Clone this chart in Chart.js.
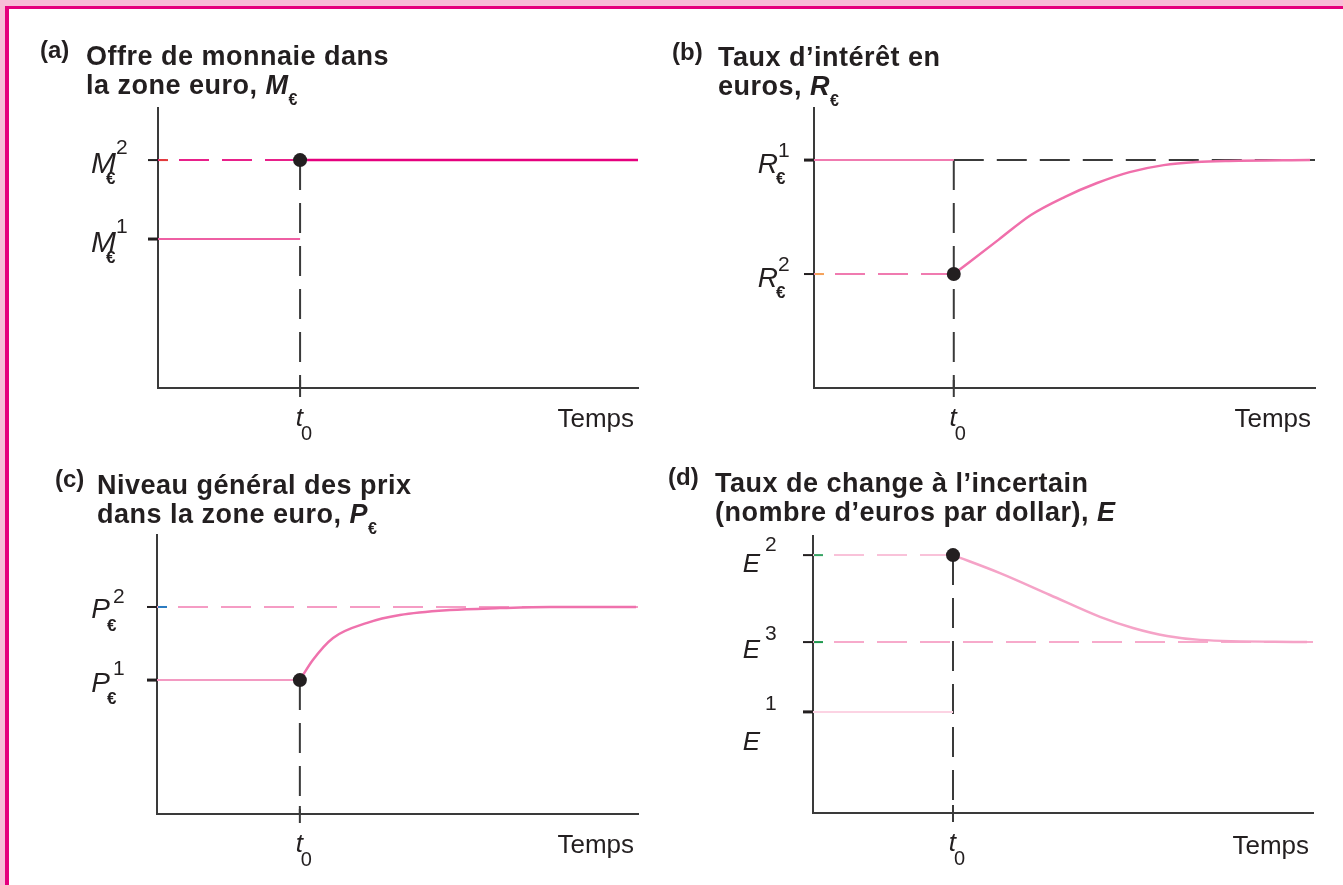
<!DOCTYPE html>
<html lang="fr">
<head>
<meta charset="utf-8">
<title>Offre de monnaie, taux d’intérêt, prix et taux de change</title>
<script src="https://cdn.jsdelivr.net/npm/chart.js@4"></script>
<style>
  body { margin: 0; }
  #frame { position: relative; width: 1343px; height: 885px; background: #f8bdd7; overflow: hidden;
           font-family: "Liberation Sans", Arial, sans-serif; color: #231f20; }
  #sheet { position: absolute; left: 5px; top: 6px; right: 0; bottom: 0; background: #fff;
           border-left: 4px solid #e5007d; border-top: 3px solid #e5007d; }
  canvas { position: absolute; }
  .tag { position: absolute; font-weight: bold; font-size: 24px; line-height: 24px; }
  .title { position: absolute; font-weight: bold; font-size: 27px; line-height: 29px;
           letter-spacing: 0.5px; white-space: nowrap; }
  .title sub { font-size: 16px; line-height: 0; vertical-align: -11px; }
</style>
</head>
<body>
<div id="frame">
  <div id="sheet"></div>

  <canvas id="chartA" width="671" height="442" style="left:0;top:0"></canvas>
  <canvas id="chartB" width="672" height="442" style="left:671px;top:0"></canvas>
  <canvas id="chartC" width="671" height="443" style="left:0;top:442px"></canvas>
  <canvas id="chartD" width="672" height="443" style="left:671px;top:442px"></canvas>

  <div class="tag" style="left:40px;top:38px">(a)</div>
  <div class="title" style="left:86px;top:42px">Offre de monnaie dans<br>la zone euro, <i>M</i><sub>€</sub></div>

  <div class="tag" style="left:672px;top:40px">(b)</div>
  <div class="title" style="left:718px;top:43px">Taux d’intérêt en<br>euros, <i>R</i><sub>€</sub></div>

  <div class="tag" style="left:55px;top:467px">(c)</div>
  <div class="title" style="left:97px;top:471px">Niveau général des prix<br>dans la zone euro, <i>P</i><sub>€</sub></div>

  <div class="tag" style="left:668px;top:465px">(d)</div>
  <div class="title" style="left:715px;top:469px">Taux de change à l’incertain<br>(nombre d’euros par dollar), <i>E</i></div>
</div>

<script>
// bornes communes des axes (unités arbitraires)
const timeMin = 0, timeMax = 10;
const valueMin = 0, valueMax = 10;
const timeLabel = 'Temps';

// (a) offre de monnaie : M¹ puis M²
const moneyT0 = 2.96;
const moneyLevels = [5.32, 8.14];
const moneyTags = ['1', '2'];

// (b) taux d'intérêt : R¹, R² et retour vers R¹
const rateT0 = 2.79;
const rateLevels = [8.14, 4.07];
const rateTags = ['1', '2'];
const ratePathX = [2.79, 3.68, 4.33, 5.0, 5.65, 6.3, 6.98, 7.63, 8.28, 9.9];
const ratePathY = [4.07, 5.29, 6.18, 6.82, 7.32, 7.71, 7.96, 8.07, 8.11, 8.14];

// (c) niveau des prix : P¹ vers P²
const priceT0 = 2.97;
const priceLevels = [4.8, 7.42];
const priceTags = ['1', '2'];
const pricePathX = [2.97, 3.24, 3.66, 4.37, 5.05, 6.09, 7.13, 8.17, 9.96];
const pricePathY = [4.8, 5.52, 6.31, 6.85, 7.13, 7.31, 7.38, 7.42, 7.42];

// (d) taux de change : E¹, saut à E², puis E³
const fxT0 = 2.8;
const fxLevels = [3.65, 9.31, 6.17];
const fxTags = ['1', '2', '3'];
const fxPathX = [2.8, 3.74, 4.74, 5.74, 6.4, 7.08, 7.74, 9.88];
const fxPathY = [9.31, 8.66, 7.87, 7.08, 6.68, 6.39, 6.25, 6.17];

const INK = '#231f20';
const GUIDE = '#3a3a3a';
const DASH = [30, 13];
const FONT = '"Liberation Sans", Arial, sans-serif';

function hline(x0, x1, y, color, width, dashed) {
  return { data: [{ x: x0, y }, { x: x1, y }], borderColor: color, borderWidth: width,
           borderDash: dashed ? DASH : [], borderDashOffset: x0 === timeMin ? 22 : 0, order: 3 };
}
function vguide(t, yTop) {
  return { data: [{ x: t, y: yTop }, { x: t, y: valueMin }], borderColor: GUIDE, borderWidth: 2,
           borderDash: DASH, order: 4 };
}
function path(xs, ys, color) {
  return { data: xs.map((x, i) => ({ x, y: ys[i] })), borderColor: color, borderWidth: 2.5,
           tension: 0.4, cubicInterpolationMode: 'monotone', order: 2 };
}
function dot(t, y) {
  return { data: [{ x: t, y }], showLine: false, pointRadius: 7, pointBackgroundColor: INK,
           pointBorderWidth: 0, order: 0 };
}

function axis(kind, min, max) {
  return {
    type: 'linear', min, max,
    grid: { display: false, drawTicks: false },
    border: { display: true, color: GUIDE, width: 2 },
    ticks: { display: false },
    afterFit(s) { if (kind === 'x') s.height = 0; else s.width = 0; }
  };
}

// symboles des niveaux, repère t0 et légende de l'axe du temps
function marks(m) {
  return {
    id: 'marks',
    afterDraw(chart) {
      const { ctx, chartArea: area, scales: { x, y } } = chart;
      ctx.save();
      ctx.textBaseline = 'alphabetic';
      m.levels.forEach(lv => {
        const py = y.getPixelForValue(lv.value);
        ctx.fillStyle = INK;
        ctx.fillRect(area.left - 10, py - lv.tick / 2, 10, lv.tick);
        if (lv.accent) {
          ctx.fillStyle = lv.accent;
          ctx.fillRect(area.left + 1, py - 1, 9, 2);
        }
        const xr = area.left - m.gap;
        ctx.fillStyle = INK;
        ctx.textAlign = 'right';
        ctx.font = `italic ${m.size}px ${FONT}`;
        ctx.fillText(m.symbol, xr, py + lv.mainDy);
        ctx.textAlign = 'left';
        ctx.font = `21px ${FONT}`;
        ctx.fillText(lv.tag, xr + m.supDx, py + lv.supDy);
        if (m.sub) {
          ctx.font = `bold 17px ${FONT}`;
          ctx.fillText(m.sub, xr + m.subDx, py + 24);
        }
      });
      const tx = x.getPixelForValue(m.t0);
      ctx.fillStyle = GUIDE;
      ctx.fillRect(tx - 1, area.bottom - 8, 2, 17);
      ctx.fillStyle = INK;
      ctx.textAlign = 'right';
      ctx.font = `italic 26px ${FONT}`;
      ctx.fillText('t', tx + 3, area.bottom + 38);
      ctx.textAlign = 'left';
      ctx.font = `20px ${FONT}`;
      ctx.fillText('0', tx + 1, area.bottom + 52);
      ctx.textAlign = 'right';
      ctx.font = `26px ${FONT}`;
      ctx.fillText(timeLabel, area.right - 4, area.bottom + m.timeDy);
      ctx.restore();
    }
  };
}

function panel(id, padding, datasets, m) {
  return new Chart(document.getElementById(id), {
    type: 'line',
    data: { datasets },
    options: {
      responsive: false,
      animation: false,
      layout: { padding },
      scales: { x: axis('x', timeMin, timeMax), y: axis('y', valueMin, valueMax) },
      elements: { point: { radius: 0 }, line: { fill: false } },
      plugins: { legend: { display: false }, tooltip: { enabled: false } }
    },
    plugins: [marks(m)]
  });
}

// (a)
panel('chartA', { left: 158, top: 108, right: 33, bottom: 54 }, [
  dot(moneyT0, moneyLevels[1]),
  hline(moneyT0, timeMax, moneyLevels[1], '#e5007e', 2.5, false),
  hline(timeMin, moneyT0, moneyLevels[1], '#e8208a', 2, true),
  hline(timeMin, moneyT0, moneyLevels[0], '#ee5fa3', 2, false),
  vguide(moneyT0, moneyLevels[1])
], {
  symbol: 'M', sub: '€', size: 30, gap: 42, supDx: 0, subDx: -10, t0: moneyT0, timeDy: 39,
  levels: [
    { value: moneyLevels[0], tag: moneyTags[0], mainDy: 13, supDy: -6, tick: 3 },
    { value: moneyLevels[1], tag: moneyTags[1], mainDy: 13, supDy: -6, tick: 2, accent: '#e23b3b' }
  ]
});

// (b)
panel('chartB', { left: 143, top: 108, right: 28, bottom: 54 }, [
  dot(rateT0, rateLevels[1]),
  path(ratePathX, ratePathY, '#f06fab'),
  hline(timeMin, rateT0, rateLevels[0], '#f07bb0', 2, false),
  hline(rateT0, timeMax, rateLevels[0], GUIDE, 2, true),
  hline(timeMin, rateT0, rateLevels[1], '#f07bb0', 2, true),
  vguide(rateT0, rateLevels[0])
], {
  symbol: 'R', sub: '€', size: 28, gap: 36, supDx: 0, subDx: -2, t0: rateT0, timeDy: 39,
  levels: [
    { value: rateLevels[0], tag: rateTags[0], mainDy: 13, supDy: -3, tick: 3 },
    { value: rateLevels[1], tag: rateTags[1], mainDy: 13, supDy: -3, tick: 2, accent: '#f5a25a' }
  ]
});

// (c)
panel('chartC', { left: 157, top: 93, right: 33, bottom: 71 }, [
  dot(priceT0, priceLevels[0]),
  path(pricePathX, pricePathY, '#ef72ad'),
  hline(timeMin, priceT0, priceLevels[0], '#f39ac2', 2, false),
  hline(timeMin, timeMax, priceLevels[1], '#f59cc4', 2, true),
  vguide(priceT0, priceLevels[0])
], {
  symbol: 'P', sub: '€', size: 28, gap: 47, supDx: 3, subDx: -3, t0: priceT0, timeDy: 39,
  levels: [
    { value: priceLevels[0], tag: priceTags[0], mainDy: 12, supDy: -5, tick: 3 },
    { value: priceLevels[1], tag: priceTags[1], mainDy: 11, supDy: -4, tick: 2, accent: '#2b7bc0' }
  ]
});

// (d)
panel('chartD', { left: 142, top: 94, right: 30, bottom: 72 }, [
  dot(fxT0, fxLevels[1]),
  path(fxPathX, fxPathY, '#f5a3c7'),
  hline(timeMin, fxT0, fxLevels[0], '#fcd3e3', 2, false),
  hline(timeMin, fxT0, fxLevels[1], '#f9c2d9', 2, true),
  hline(timeMin, timeMax, fxLevels[2], '#f7aacb', 2, true),
  vguide(fxT0, fxLevels[1])
], {
  symbol: 'E', sub: null, size: 26, gap: 53, supDx: 5, subDx: 0, t0: fxT0, timeDy: 41,
  levels: [
    { value: fxLevels[0], tag: fxTags[0], mainDy: 38, supDy: -2, tick: 3 },
    { value: fxLevels[1], tag: fxTags[1], mainDy: 17, supDy: -4, tick: 2, accent: '#36a464' },
    { value: fxLevels[2], tag: fxTags[2], mainDy: 16, supDy: -2, tick: 2, accent: '#1f9a4f' }
  ]
});
</script>
</body>
</html>
